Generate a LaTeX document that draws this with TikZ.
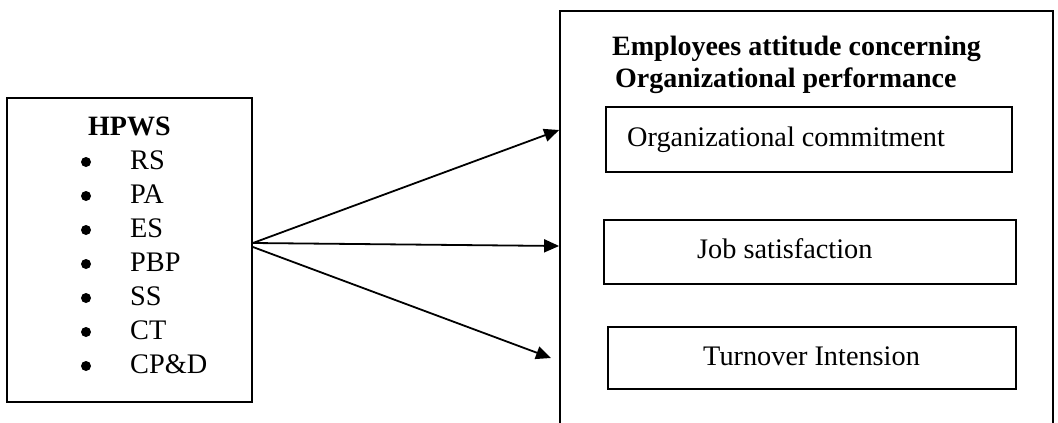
\documentclass[tikz,border=0pt]{standalone}
\usepackage{fontspec}
\setmainfont{Liberation Serif}
\usetikzlibrary{arrows.meta}
\begin{document}
\begin{tikzpicture}[x=1pt,y=-1pt,
  frame/.style={draw=black,line width=1.8pt,inner sep=0pt},
  label/.style={font=\fontsize{28.3}{32}\selectfont,inner sep=0pt,anchor=base west},
  head/.style={font=\fontsize{28}{32}\selectfont\bfseries,inner sep=0pt,anchor=base west},
  dot/.style={circle,fill=black,inner sep=0pt,minimum size=10pt},
  link/.style={line width=1.8pt,-{Triangle[length=15pt,width=13pt]}}]
\useasboundingbox (0,0) rectangle (1058,423);
\fill[white] (0,0) rectangle (1058,423);

% left box: HPWS practices
\node[frame,minimum width=245pt,minimum height=304pt] (hpws) at (129.5,250) {};
\node[head] (hpwst) at (88,135) {HPWS};
\foreach \t [count=\i from 0] in {RS,PA,ES,PBP,SS,CT,CP\&D}{
  \node[dot] (b\i) at (86,{162+34*\i}) {};
  \node[label] (p\i) at (130,{169+34*\i}) {\t};
}

% right box: employee attitudes (open at the bottom edge)
\node[frame,minimum width=493pt,minimum height=440pt] (att) at (806.5,231) {};
\node[head] (h1) at (612,55) {Employees attitude concerning};
\node[head] (h2) at (615,87) {Organizational performance};

\node[frame,minimum width=406pt,minimum height=65pt] (oc) at (809,139.5) {};
\node[label] (oct) at (627,146) {Organizational commitment};
\node[frame,minimum width=412pt,minimum height=64pt] (js) at (810,252) {};
\node[label] (jst) at (697,258) {Job satisfaction};
\node[frame,minimum width=408pt,minimum height=62pt] (ti) at (812,358) {};
\node[label] (tit) at (703,365) {Turnover Intension};

% arrows from HPWS to the attitude box
\coordinate (src) at ([yshift=7pt]hpws.east);
\coordinate (src3) at ([yshift=3pt]hpws.east);
\coordinate (t1) at (att.west |- 0,130);
\coordinate (t2) at (att.west |- 0,246);
\coordinate (t3) at (551,358);
\draw[link] (src) -- (t1);
\draw[link] (src) -- (t2);
\draw[link] (src3) -- (t3);
\end{tikzpicture}
\end{document}
